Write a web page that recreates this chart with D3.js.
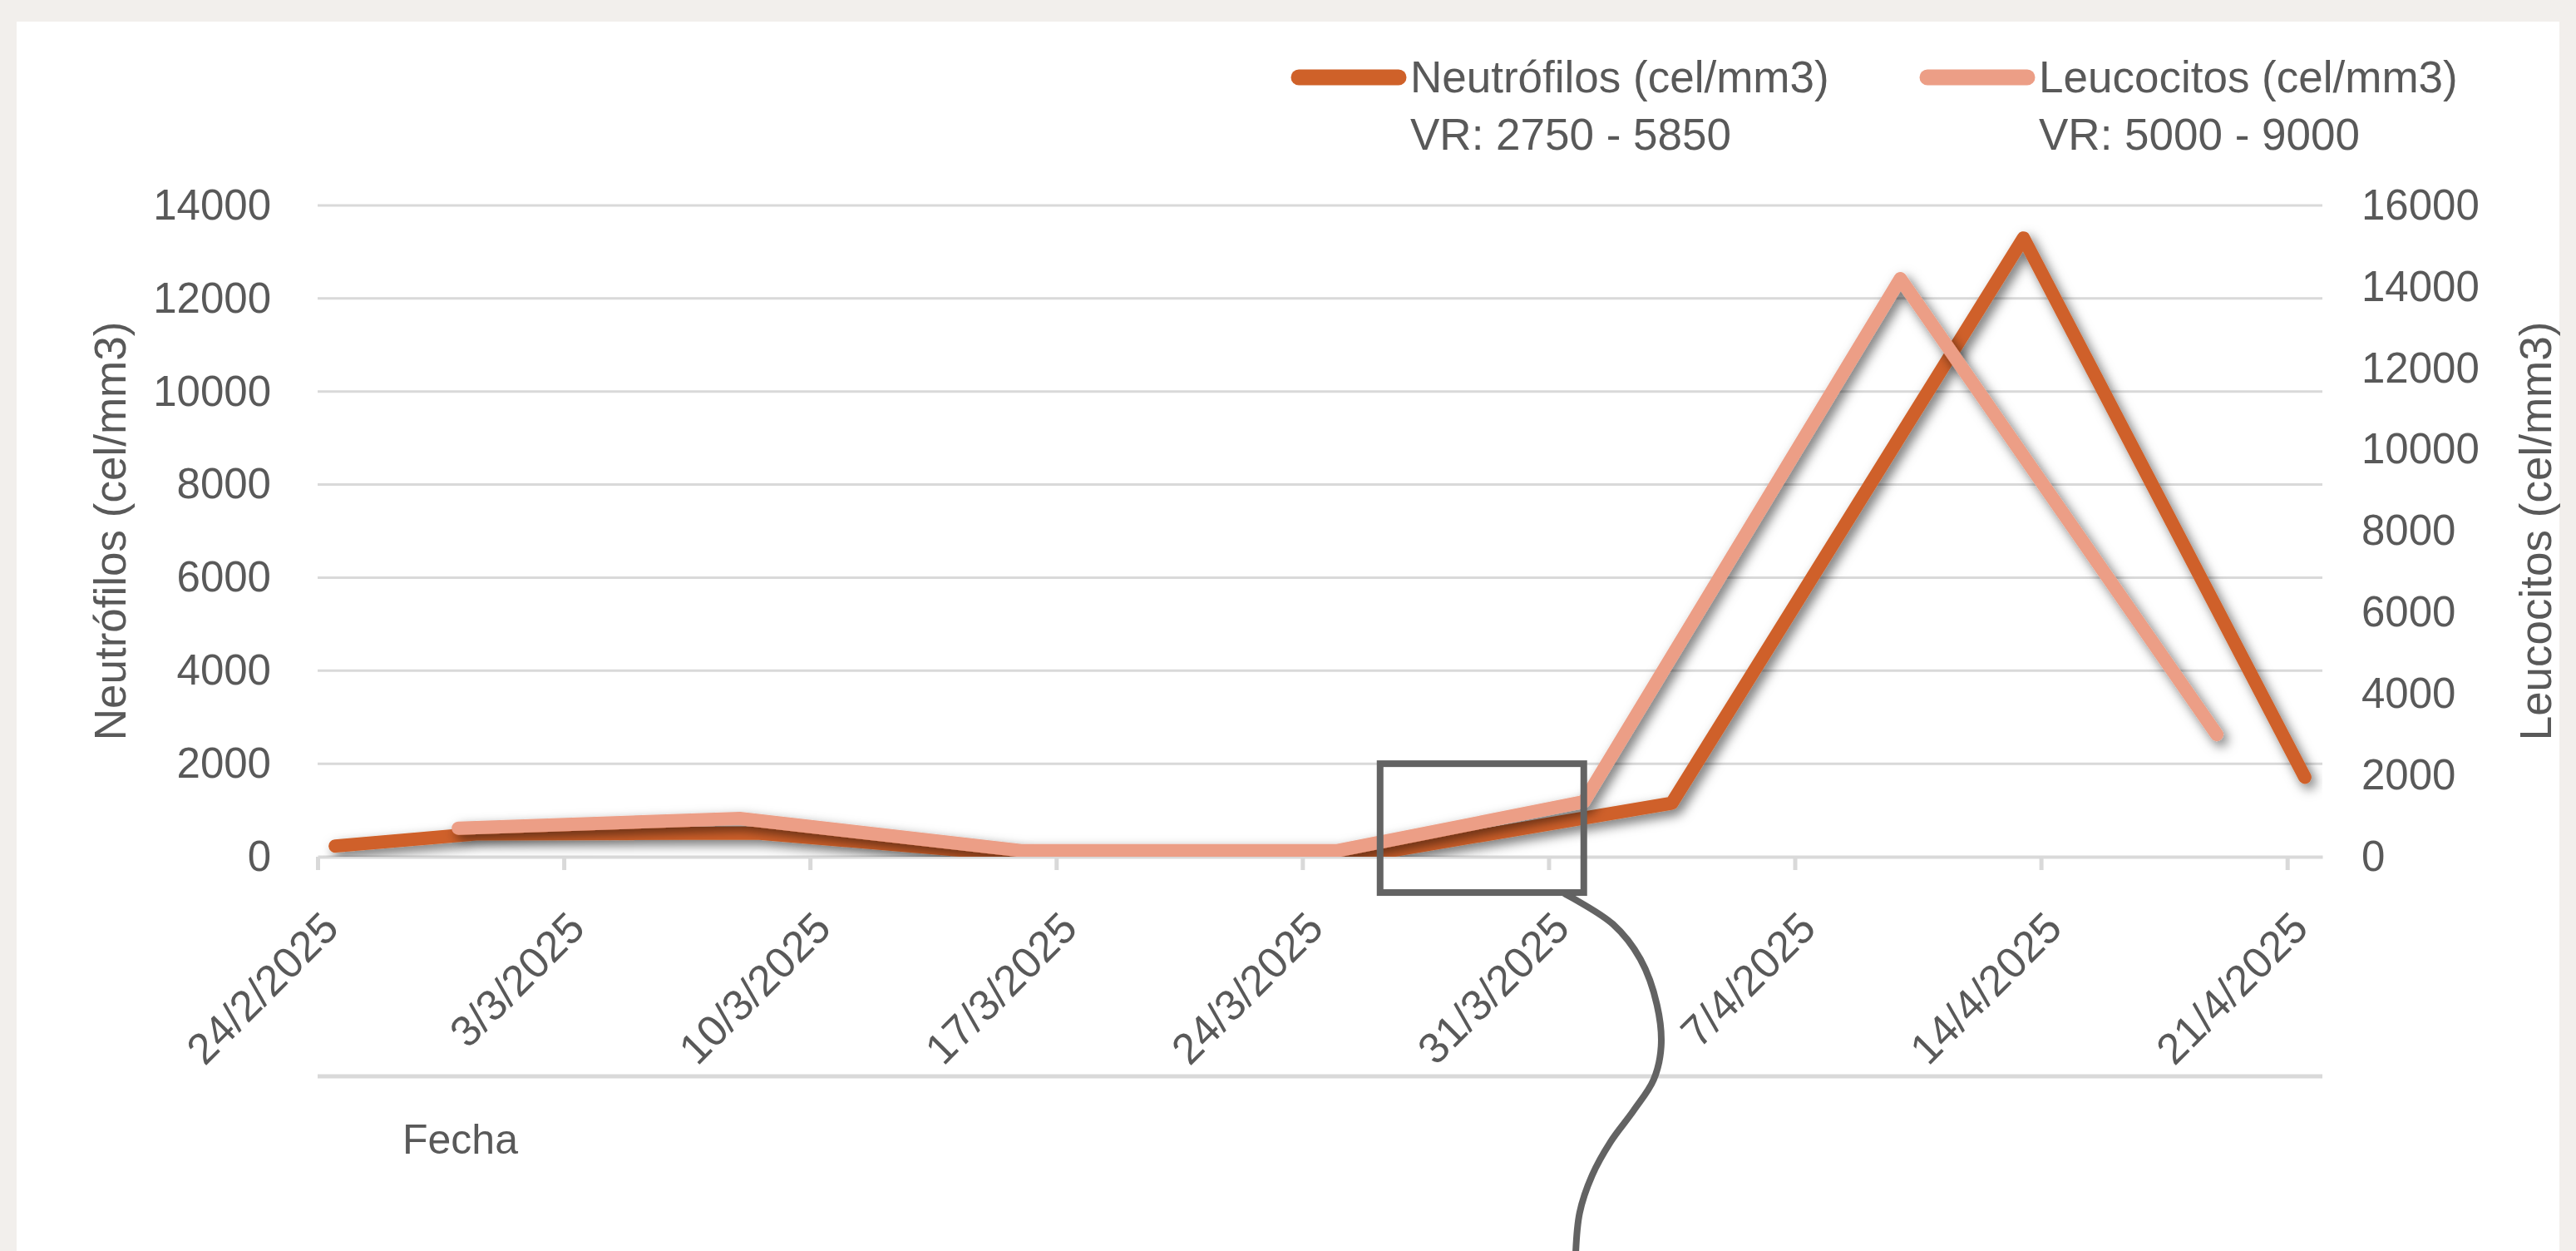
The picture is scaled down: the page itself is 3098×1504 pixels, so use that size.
<!DOCTYPE html>
<html>
<head>
<meta charset="utf-8">
<script src="https://cdn.jsdelivr.net/npm/d3@7"></script>
<style>
  html, body { margin: 0; padding: 0; background: #F2EFEC; }
  svg { display: block; }
  text { font-family: "Liberation Sans", Arial, sans-serif; fill: #595959; }
</style>
</head>
<body>
<svg id="chart" width="3098" height="1504"></svg>
<script>
/* Datos: Neutrófilos (eje izquierdo) */
const neutroDates = ["2025-02-24", "2025-02-28", "2025-03-08", "2025-03-16", "2025-03-25", "2025-04-03", "2025-04-13", "2025-04-21"];
const neutroValues = [230, 490, 510, 0, 0, 1150, 13300, 1710];

/* Datos: Leucocitos (eje derecho) */
const leucoDates = ["2025-02-28", "2025-03-08", "2025-03-16", "2025-03-25", "2025-04-01", "2025-04-10", "2025-04-19"];
const leucoValues = [700, 940, 150, 150, 1350, 14200, 3000];

/* Etiquetas de ejes */
const xTickLabels = ["24/2/2025", "3/3/2025", "10/3/2025", "17/3/2025", "24/3/2025", "31/3/2025", "7/4/2025", "14/4/2025", "21/4/2025"];
const leftTicks = [0, 2000, 4000, 6000, 8000, 10000, 12000, 14000];
const rightTicks = [0, 2000, 4000, 6000, 8000, 10000, 12000, 14000, 16000];

const legendItems = [
  { name: "Neutrófilos (cel/mm3)", range: "VR: 2750 - 5850", color: "#CF6129" },
  { name: "Leucocitos (cel/mm3)", range: "VR: 5000 - 9000", color: "#EC9E86" }
];

const parseDay = d3.timeParse("%Y-%m-%d");
const parseTick = d3.timeParse("%d/%m/%Y");

const neutro = neutroDates.map((d, i) => ({ date: parseDay(d), value: neutroValues[i] }));
const leuco = leucoDates.map((d, i) => ({ date: parseDay(d), value: leucoValues[i] }));
const tickDates = xTickLabels.map(parseTick);

/* Dimensiones */
const plot = { left: 382, right: 2793, top: 247, bottom: 1030 };

const svg = d3.select("#chart");

/* Fondo blanco */
svg.append("rect")
    .attr("x", 20).attr("y", 26)
    .attr("width", 3058).attr("height", 1504 - 26)
    .attr("fill", "#FFFFFF");

/* Sombra de las líneas */
const defs = svg.append("defs");
defs.append("filter")
    .attr("id", "shadow")
    .attr("filterUnits", "userSpaceOnUse")
    .attr("x", 0).attr("y", 0).attr("width", 3098).attr("height", 1504)
  .append("feDropShadow")
    .attr("dx", 5).attr("dy", 6)
    .attr("stdDeviation", 7)
    .attr("flood-color", "#000")
    .attr("flood-opacity", 0.55);

defs.append("clipPath")
    .attr("id", "plotClip")
  .append("rect")
    .attr("x", plot.left).attr("y", 0)
    .attr("width", plot.right - plot.left)
    .attr("height", plot.bottom);

/* Escalas */
const xScale = d3.scaleTime()
    .domain([new Date(2025, 1, 24), new Date(2025, 3, 22)])
    .range([plot.left, plot.right]);

const yLeft = d3.scaleLinear()
    .domain([0, 14000])
    .range([plot.bottom, plot.top]);

const yRight = d3.scaleLinear()
    .domain([0, 16000])
    .range([plot.bottom, plot.top]);

/* Líneas de cuadrícula */
svg.append("g")
    .selectAll("line")
    .data(leftTicks.filter(d => d > 0))
    .join("line")
      .attr("x1", plot.left).attr("x2", plot.right)
      .attr("y1", d => yLeft(d)).attr("y2", d => yLeft(d))
      .attr("stroke", "#D9D9D9")
      .attr("stroke-width", 3);

/* Eje X */
const xAxis = svg.append("g")
    .attr("transform", `translate(0, ${plot.bottom})`)
    .call(d3.axisBottom(xScale)
        .tickValues(tickDates)
        .tickFormat((d, i) => xTickLabels[i])
        .tickSizeInner(16)
        .tickSizeOuter(0));

xAxis.select(".domain").attr("stroke", "#D9D9D9").attr("stroke-width", 4);
xAxis.selectAll(".tick line").attr("stroke", "#D9D9D9").attr("stroke-width", 5);
xAxis.selectAll(".tick text")
    .attr("x", 0).attr("y", 0)
    .attr("dy", "0.35em")
    .attr("transform", "translate(14.5, 76) rotate(-45)")
    .style("text-anchor", "end")
    .style("font-size", "52px")
    .attr("fill", "#595959");

/* Eje Y izquierdo */
const leftAxis = svg.append("g")
    .attr("transform", `translate(${plot.left}, 0)`)
    .call(d3.axisLeft(yLeft).tickValues(leftTicks).tickFormat(d3.format("d")).tickSize(0).tickPadding(56));
leftAxis.select(".domain").remove();
leftAxis.selectAll("text").style("font-size", "51px").attr("fill", "#595959");

/* Eje Y derecho */
const rightAxis = svg.append("g")
    .attr("transform", `translate(${plot.right}, 0)`)
    .call(d3.axisRight(yRight).tickValues(rightTicks).tickFormat(d3.format("d")).tickSize(0).tickPadding(47));
rightAxis.select(".domain").remove();
rightAxis.selectAll("text").style("font-size", "51px").attr("fill", "#595959");

/* Líneas de datos */
const halfDay = d => d3.timeHour.offset(d, 12);

const neutroLine = d3.line()
    .x(d => xScale(halfDay(d.date)))
    .y(d => yLeft(d.value));

const leucoLine = d3.line()
    .x(d => xScale(d.date))
    .y(d => yRight(d.value));

const lines = svg.append("g").attr("clip-path", "url(#plotClip)");

lines.append("path")
    .datum(neutro)
    .attr("d", neutroLine)
    .attr("fill", "none")
    .attr("stroke", legendItems[0].color)
    .attr("stroke-width", 16)
    .attr("stroke-linejoin", "round")
    .attr("stroke-linecap", "round")
    .attr("filter", "url(#shadow)");

lines.append("path")
    .datum(leuco)
    .attr("d", leucoLine)
    .attr("fill", "none")
    .attr("stroke", legendItems[1].color)
    .attr("stroke-width", 16)
    .attr("stroke-linejoin", "round")
    .attr("stroke-linecap", "round")
    .attr("filter", "url(#shadow)");

/* Títulos de ejes */
svg.append("text")
    .attr("transform", `translate(132, ${(plot.top + plot.bottom) / 2}) rotate(-90)`)
    .attr("text-anchor", "middle")
    .attr("dominant-baseline", "central")
    .style("font-size", "53px")
    .text("Neutrófilos (cel/mm3)");

svg.append("text")
    .attr("transform", `translate(3049, ${(plot.top + plot.bottom) / 2}) rotate(-90)`)
    .attr("text-anchor", "middle")
    .attr("dominant-baseline", "central")
    .style("font-size", "53px")
    .text("Leucocitos (cel/mm3)");

/* Línea inferior y título Fecha */
svg.append("line")
    .attr("x1", plot.left).attr("x2", plot.right)
    .attr("y1", 1294).attr("y2", 1294)
    .attr("stroke", "#D9D9D9")
    .attr("stroke-width", 5);

svg.append("text")
    .attr("x", 484).attr("y", 1387)
    .style("font-size", "50px")
    .text("Fecha");

/* Leyenda */
const legend = svg.append("g");
const legendX = [1553, 2309];

legendItems.forEach((item, i) => {
  const g = legend.append("g").attr("transform", `translate(${legendX[i]}, 0)`);
  g.append("line")
      .attr("x1", 9).attr("x2", 129)
      .attr("y1", 93).attr("y2", 93)
      .attr("stroke", item.color)
      .attr("stroke-width", 19)
      .attr("stroke-linecap", "round");
  g.append("text")
      .attr("x", 143).attr("y", 111)
      .style("font-size", "53px")
      .text(item.name);
  g.append("text")
      .attr("x", 143).attr("y", 180)
      .style("font-size", "53px")
      .text(item.range);
});

/* Anotación: recuadro y conector */
const annotBox = { from: new Date(2025, 2, 26, 5), to: new Date(2025, 3, 1), top: 2000, bottom: -770 };

const bx0 = xScale(annotBox.from), bx1 = xScale(annotBox.to);
const by0 = yLeft(annotBox.top), by1 = yLeft(annotBox.bottom);

svg.append("rect")
    .attr("x", bx0).attr("y", by0)
    .attr("width", bx1 - bx0).attr("height", by1 - by0)
    .attr("fill", "none")
    .attr("stroke", "#636363")
    .attr("stroke-width", 8);

/* Conector dibujado a mano, relativo a la esquina inferior derecha del recuadro */
const connector = [
  [-22, 2], [35, 38], [68, 80], [88, 135], [93, 185], [84, 225],
  [60, 262], [32, 300], [10, 340], [-5, 385], [-10, 440]
];

svg.append("path")
    .datum(connector)
    .attr("d", d3.line()
        .x(d => bx1 + d[0])
        .y(d => by1 + d[1])
        .curve(d3.curveCatmullRom))
    .attr("fill", "none")
    .attr("stroke", "#636363")
    .attr("stroke-width", 8)
    .attr("stroke-linecap", "round");
</script>
</body>
</html>
